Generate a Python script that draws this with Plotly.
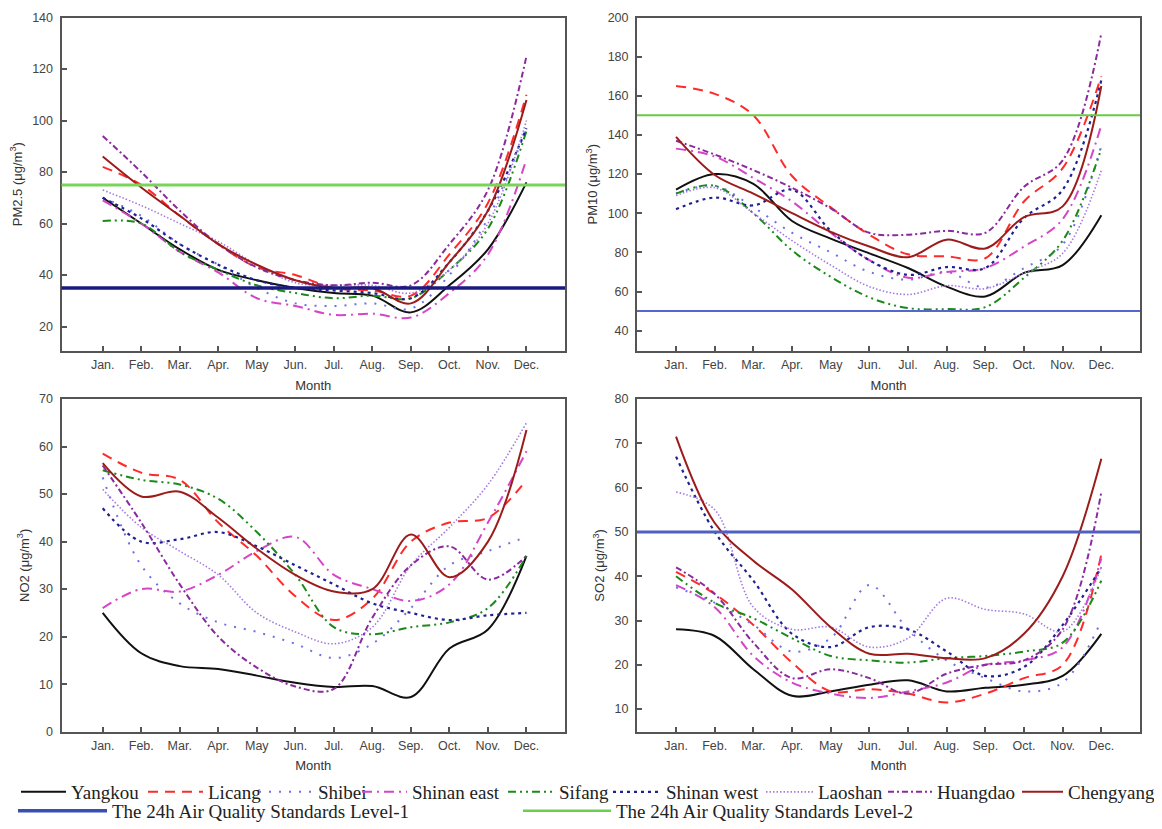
import plotly.graph_objects as go

W, H = 1162, 829
PAGE_OFFSET = 8  # default body margin of the html page

MONTHS = list(range(1, 13))
MONTH_LABELS = ["Jan.", "Feb.", "Mar.", "Apr.", "May", "Jun.", "Jul.", "Aug.", "Sep.", "Oct.", "Nov.", "Dec."]
STATIONS = ["Yangkou", "Licang", "Shibei", "Shinan east", "Sifang", "Shinan west", "Laoshan", "Huangdao", "Chengyang"]

PM25 = {
    "Yangkou":     [70, 60, 50, 42, 38, 35, 33, 32, 25.5, 36, 50, 76],
    "Licang":      [82, 75, 63, 52, 43, 40, 35, 34, 32, 48, 68, 110],
    "Shibei":      [70, 63, 52, 44, 35, 29, 28, 29, 27, 40, 62, 97],
    "Shinan east": [69, 60, 49, 41, 31, 28, 24.5, 25, 23.5, 33, 48, 85],
    "Sifang":      [61, 60, 49, 42, 36, 33, 31, 32, 31, 42, 58, 96],
    "Shinan west": [70, 62, 52, 44, 38, 35, 34, 33, 31, 45, 65, 97],
    "Laoshan":     [73, 67, 60, 53, 44, 37, 36, 36, 33, 42, 60, 100],
    "Huangdao":    [94, 80, 65, 52, 43, 38, 36, 37, 36, 52, 73, 125],
    "Chengyang":   [86, 74, 63, 52, 44, 38, 35, 35, 29, 45, 65, 108],
}
PM10 = {
    "Yangkou":     [112, 120, 115, 96, 87, 79.5, 72, 62.5, 57.5, 69.5, 73.5, 99],
    "Licang":      [165, 161, 150, 119, 103, 89, 79, 78, 77, 106, 123, 170],
    "Shibei":      [110, 114, 103, 90, 80, 70, 66, 70, 62, 72, 84, 135],
    "Shinan east": [133, 129, 118, 106, 90, 76, 67, 70, 72, 83, 97, 145],
    "Sifang":      [110, 114, 100, 81, 67.5, 57, 51.5, 51, 52, 67, 86, 133],
    "Shinan west": [102, 108, 104, 112, 91, 76, 68.5, 72.5, 72, 97.5, 112, 168],
    "Laoshan":     [109, 113, 100, 86, 73.5, 62.5, 58.5, 63, 61.5, 69.5, 79.5, 122],
    "Huangdao":    [137, 130, 122, 113, 102.5, 90, 89, 91, 90, 113.5, 127, 192],
    "Chengyang":   [139, 119.5, 110, 100, 90.5, 83, 77.5, 86.5, 82, 98, 103.5, 165],
}
NO2 = {
    "Yangkou":     [25, 16.5, 13.8, 13.2, 11.8, 10.3, 9.4, 9.6, 7.3, 17.5, 21.5, 37],
    "Licang":      [58.5, 54.5, 53, 44, 37, 28.5, 23.5, 28, 40, 44, 45, 53],
    "Shibei":      [53.5, 35, 27, 23, 21, 18.5, 15.5, 18.5, 26, 35, 38, 41],
    "Shinan east": [26, 30, 29.5, 33, 38, 41, 33, 30, 27.5, 31, 44, 59],
    "Sifang":      [55, 53, 52, 49, 42, 33, 22, 20.5, 22, 23, 26, 37],
    "Shinan west": [47, 40, 40.5, 42, 39, 35, 31, 27, 25, 23.5, 24.5, 25],
    "Laoshan":     [51, 43, 38, 33, 25, 21, 18.5, 22, 35, 43, 52, 65],
    "Huangdao":    [56, 44, 31, 20, 13.5, 9.5, 9, 24, 35, 39, 32, 37],
    "Chengyang":   [56.5, 49.5, 50.5, 45, 38.5, 33, 29.5, 30, 41.5, 32.5, 40, 63.5],
}
SO2 = {
    "Yangkou":     [28, 26.5, 19, 13, 14, 15.5, 16.5, 14, 14.8, 15.5, 17.5, 27],
    "Licang":      [41, 36, 29, 20.5, 14, 14.5, 13.5, 11.5, 13.5, 17, 20, 45],
    "Shibei":      [37.5, 34, 29, 23, 26, 38, 28, 21, 17, 14, 16, 30],
    "Shinan east": [38, 33, 22, 16, 13.5, 12.5, 14, 16, 20, 21, 24, 44],
    "Sifang":      [40, 34, 30.5, 26, 22, 21, 20.5, 21.5, 22, 23, 25, 39],
    "Shinan west": [67, 50, 39, 27, 24, 28.5, 28, 23, 17.5, 19.5, 29, 42],
    "Laoshan":     [59, 55, 33, 28, 28.5, 24, 26, 35, 32.5, 31.5, 27.5, 42],
    "Huangdao":    [42, 36, 25, 17, 19, 17, 13.5, 18, 20, 21, 28, 59],
    "Chengyang":   [71.5, 52, 43.5, 37, 28.5, 22.5, 22.5, 21.5, 21.5, 27, 40, 66.5],
}

STD_LEVEL1 = {"PM2.5": 35, "PM10": 50, "SO2": 50}
STD_LEVEL2 = {"PM2.5": 75, "PM10": 150}
STD_NAMES = ["The 24h Air Quality Standards Level-1", "The 24h Air Quality Standards Level-2"]

STYLE = {
    "Yangkou":     dict(color="#111111", dash="solid", width=2),
    "Licang":      dict(color="#ff2a2a", dash="10px,7px", width=2),
    "Shibei":      dict(color="#6f6fe6", dash="2px,8px", width=2),
    "Shinan east": dict(color="#d545c8", dash="10px,5px,2px,5px", width=2),
    "Sifang":      dict(color="#1a8a1a", dash="8px,4px,2px,4px,2px,4px", width=2),
    "Shinan west": dict(color="#202090", dash="3px,4px", width=2.2),
    "Laoshan":     dict(color="#a57ae0", dash="1.5px,2px", width=1.6),
    "Huangdao":    dict(color="#8a2a9e", dash="6px,3px,2px,3px", width=2),
    "Chengyang":   dict(color="#9c1c1c", dash="solid", width=2),
}

PANELS = [
    ("PM2.5", PM25, "x", "y", "PM2.5 (μg/m<sup>3</sup>)", [10.5, 140], 20),
    ("PM10", PM10, "x2", "y2", "PM10 (μg/m<sup>3</sup>)", [29.6, 200], 20),
    ("NO2", NO2, "x3", "y3", "NO2 (μg/m<sup>3</sup>)", [0, 70], 10),
    ("SO2", SO2, "x4", "y4", "SO2 (μg/m<sup>3</sup>)", [4.9, 80], 10),
]
L1_STYLE = {"PM2.5": ("#1a1a80", 3.5), "PM10": ("#5566cc", 2), "SO2": ("#5060c0", 3)}
L2_STYLE = {"PM2.5": ("#7ad35a", 3), "PM10": ("#66cc44", 2)}


def px_x(p):
    return (p - PAGE_OFFSET) / W


def px_y(p):
    return (H - (p - PAGE_OFFSET)) / H


XL = [px_x(61.5), px_x(565)]
XR = [px_x(637), px_x(1140)]
YT = [px_y(351), px_y(17.5)]
YB = [px_y(731.7), px_y(399)]
DOMAINS = {"x": (XL, YT, [-0.07, 13.0]), "x2": (XR, YT, [-0.01, 13.0]),
           "x3": (XL, YB, [-0.07, 13.0]), "x4": (XR, YB, [-0.01, 13.0])}

# legend layout: (symbol start px, text start px) in screen pixels
LEG_POS = [(23, 72), (150, 209), (261, 319), (364, 413), (510, 560),
           (615, 667), (768, 819), (890, 938), (1024, 1069)]
STD_LEG_POS = [(20, 113), (525, 617)]
ROW1_MID, ROW2_MID = 792, 811

fig = go.Figure()


def legend_id(i):
    return "legend" if i == 0 else f"legend{i + 1}"


for pi, (key, data, xa, ya, ytitle, yr, dt) in enumerate(PANELS):
    for si, st in enumerate(STATIONS):
        s = STYLE[st]
        fig.add_trace(go.Scatter(
            x=MONTHS, y=data[st], mode="lines", name=st,
            line=dict(color=s["color"], dash=s["dash"], width=s["width"], shape="spline", smoothing=1.0),
            xaxis=xa, yaxis=ya, showlegend=(pi == 0), legend=legend_id(si),
            hoverinfo="skip",
        ))
    if key in STD_LEVEL1:
        c, w = L1_STYLE[key]
        fig.add_shape(type="line", xref=f"{xa} domain", yref=ya, x0=0, x1=1,
                      y0=STD_LEVEL1[key], y1=STD_LEVEL1[key], line=dict(color=c, width=w))
    if key in STD_LEVEL2:
        c, w = L2_STYLE[key]
        fig.add_shape(type="line", xref=f"{xa} domain", yref=ya, x0=0, x1=1,
                      y0=STD_LEVEL2[key], y1=STD_LEVEL2[key], line=dict(color=c, width=w))

STD_LEG_STYLE = [("#3a4fb5", 3.5), ("#6ccf4c", 2.5)]
for k, name in enumerate(STD_NAMES):
    c, w = STD_LEG_STYLE[k]
    fig.add_trace(go.Scatter(x=[None], y=[None], mode="lines", name=name,
                             line=dict(color=c, width=w), legend=legend_id(len(STATIONS) + k),
                             showlegend=True, hoverinfo="skip"))

axis_font = dict(family="Liberation Sans, Arial, sans-serif", size=12.5, color="#444444")
title_font = dict(family="Liberation Sans, Arial, sans-serif", size=13, color="#333333")
leg_font = dict(family="Liberation Serif, Times New Roman, serif", size=19, color="#222222")

layout = dict(
    width=W, height=H, margin=dict(l=0, r=0, t=0, b=0, autoexpand=False),
    paper_bgcolor="white", plot_bgcolor="white",
)


def leg(sym_x, text_x, mid):
    return dict(orientation="h", xref="container", yref="container",
                x=px_x(sym_x - 7), xanchor="left", y=px_y(mid - 19), yanchor="top",
                font=leg_font, itemwidth=max(30, text_x - sym_x - 4),
                bgcolor="rgba(0,0,0,0)", borderwidth=0)


for si, (sx, tx) in enumerate(LEG_POS):
    layout[legend_id(si)] = leg(sx, tx, ROW1_MID)
for k, (sx, tx) in enumerate(STD_LEG_POS):
    layout[legend_id(len(STATIONS) + k)] = leg(sx, tx, ROW2_MID)

for key, data, xa, ya, ytitle, yr, dt in PANELS:
    xd, yd, xr = DOMAINS[xa]
    xname = "xaxis" + xa[1:]
    yname = "yaxis" + ya[1:]
    layout[xname] = dict(
        domain=xd, anchor=ya, range=xr,
        tickmode="array", tickvals=MONTHS, ticktext=MONTH_LABELS,
        ticks="inside", ticklen=5, tickwidth=1.5, tickcolor="#555555",
        showline=True, linecolor="#555555", linewidth=2, mirror=True,
        showgrid=False, zeroline=False, tickfont=axis_font, ticklabelstandoff=1,
        title=dict(text="Month", font=title_font, standoff=10),
    )
    layout[yname] = dict(
        domain=yd, anchor=xa, range=yr, dtick=dt, tick0=0,
        ticks="inside", ticklen=5, tickwidth=1.5, tickcolor="#555555",
        showline=True, linecolor="#555555", linewidth=2, mirror=True,
        showgrid=False, zeroline=False, tickfont=axis_font, ticklabelstandoff=4,
        title=dict(text=ytitle, font=title_font, standoff=7),
    )

fig.update_layout(**layout)
fig.write_html("out.html")
